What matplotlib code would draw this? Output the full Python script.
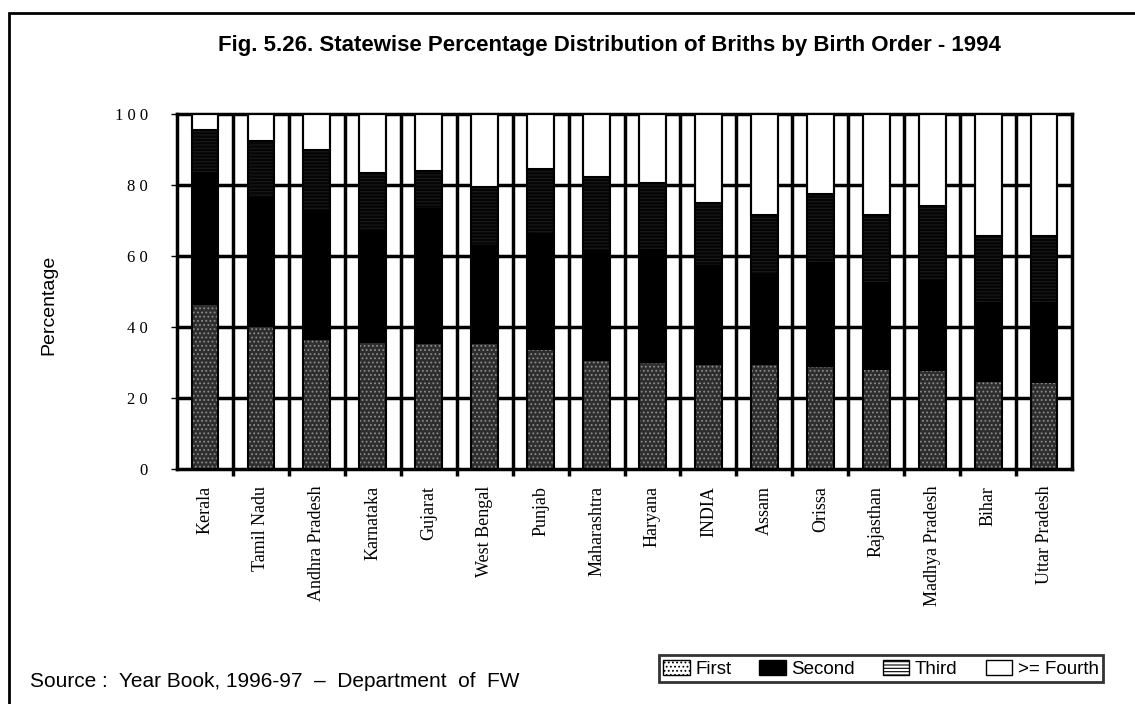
import matplotlib.pyplot as plt
import numpy as np
from matplotlib.patches import Patch, Rectangle

# --- Data ---
states = ["Kerala", "Tamil Nadu", "Andhra Pradesh", "Karnataka", "Gujarat",
          "West Bengal", "Punjab", "Maharashtra", "Haryana", "INDIA", "Assam",
          "Orissa", "Rajasthan", "Madhya Pradesh", "Bihar", "Uttar Pradesh"]
first = [46.2, 40.1, 36.3, 35.6, 35.2, 35.2, 33.5, 30.5, 30.0, 29.3, 29.3,
         28.8, 27.9, 27.7, 24.6, 24.1]
second = [37.5, 36.6, 36.7, 31.4, 38.3, 27.8, 33.0, 31.2, 32.0, 28.2, 25.7,
          29.6, 24.9, 25.5, 22.5, 23.0]
third = [11.8, 15.8, 17.0, 16.5, 10.5, 16.5, 17.9, 20.5, 18.5, 17.5, 16.5,
         19.1, 18.7, 20.8, 18.5, 18.5]
fourth = [4.5, 7.5, 10.0, 16.5, 16.0, 20.5, 15.6, 17.8, 19.5, 25.0, 28.5,
          22.5, 28.5, 26.0, 34.4, 34.4]
yticks = [0, 20, 40, 60, 80, 100]
ytick_labels = ["0", "2 0", "4 0", "6 0", "8 0", "1 0 0"]

plt.rcParams['hatch.linewidth'] = 0.8

fig = plt.figure(figsize=(11.35, 7.04), dpi=100)
ax = fig.add_axes([0.156, 0.3338, 0.7885, 0.5042])

x = np.arange(len(states))
w = 0.48
b1 = np.array(first)
b2 = b1 + np.array(second)
b3 = b2 + np.array(third)

# stacked bars
ax.bar(x, first, w, color='#2e2e2e', edgecolor='#8c8c8c', hatch='....',
       linewidth=0, zorder=3)
ax.bar(x, second, w, bottom=b1, color='black', linewidth=0, zorder=3)
ax.bar(x, third, w, bottom=b2, color='#050505', edgecolor='#1a1a1a',
       hatch='-----', linewidth=0, zorder=3)
ax.bar(x, fourth, w, bottom=b3, color='white', edgecolor='black',
       linewidth=1.5, zorder=3)
# outline of whole bar
ax.bar(x, np.array(fourth) + b3, w, fill=False, edgecolor='black',
       linewidth=1.5, zorder=4)

# grid lines
for y in [20, 40, 60, 80]:
    ax.axhline(y, color='black', lw=2.5, zorder=1)
for b in np.arange(0.5, len(states) - 1, 1.0):
    ax.axvline(b, color='black', lw=2.5, zorder=1)

ax.set_xlim(-0.5, len(states) - 0.5)
ax.set_ylim(0, 100)
for s in ax.spines.values():
    s.set_linewidth(2.5)

ax.set_yticks(yticks)
ax.set_yticklabels(ytick_labels, family='Liberation Serif', fontsize=12)
ax.tick_params(axis='y', length=4, width=1, pad=17)

ax.set_xticks(x)
ax.set_xticklabels(states, rotation=90, family='Liberation Serif',
                   fontsize=13, va='top')
ax.tick_params(axis='x', length=0, pad=12)
ax.set_xticks(np.arange(0.5, len(states) - 1, 1.0), minor=True)
ax.tick_params(axis='x', which='minor', length=5, width=2.5)

fig.text(0.043, 0.567, "Percentage", rotation=90, ha='center', va='center',
         family='Liberation Sans', fontsize=14)
fig.text(0.537, 0.935, "Fig. 5.26. Statewise Percentage Distribution of Briths by Birth Order - 1994",
         ha='center', va='center', family='Liberation Sans', fontsize=16,
         fontweight='bold')
fig.text(0.026, 0.032, "Source :  Year Book, 1996-97  \u2013  Department  of  FW",
         ha='left', va='center', family='Liberation Sans', fontsize=15)

handles = [
    Patch(facecolor='white', edgecolor='black', hatch='....', label='First'),
    Patch(facecolor='black', edgecolor='black', label='Second'),
    Patch(facecolor='white', edgecolor='black', hatch='-----', label='Third'),
    Patch(facecolor='white', edgecolor='black', label='>= Fourth'),
]
leg = fig.legend(handles=handles, loc='center right', ncol=4,
                 bbox_to_anchor=(0.972, 0.05), frameon=True, fancybox=False,
                 edgecolor='black', prop={'family': 'Liberation Sans', 'size': 13.5},
                 handlelength=1.4, handleheight=0.85, handletextpad=0.3,
                 columnspacing=1.5, borderpad=0.25, borderaxespad=0)
leg.get_frame().set_linewidth(2)

# outer frame of the figure
fig.patches.append(Rectangle((0.008, -0.01), 0.995, 0.992, transform=fig.transFigure,
                             fill=False, edgecolor='black', lw=2))

fig.savefig("out.png", dpi=100)
